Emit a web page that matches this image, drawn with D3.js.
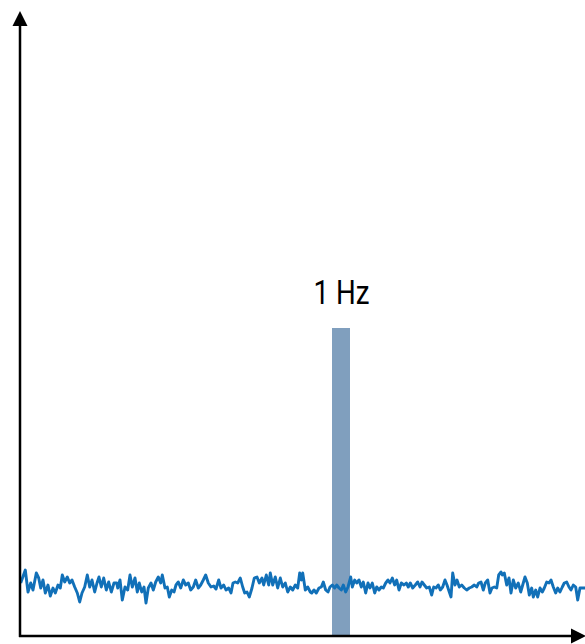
<!DOCTYPE html>
<html>
<head>
<meta charset="utf-8">
<script src="https://cdn.jsdelivr.net/npm/d3@7"></script>
<style>
  html, body { margin: 0; padding: 0; background: #fff; }
  svg { display: block; }
</style>
</head>
<body>
<div id="chart"></div>
<script>
// ---- data ----
// frequency axis in sample bins (321 bins = 1 Hz), amplitude in arbitrary units
const binsPerHz = 321;
const xDomain = [0, 565];
const yDomain = [0, 624];
const toneLabel = "1 Hz";
const toneBin = 321;
const toneWidthBins = 18;
const toneAmp = 308;

// noise floor: [bin, amplitude]
const noise = [
  [0.7,53],[5.3,66],[8,44],[10.7,53],[13,46],[16.3,63],[18.7,58],[20.7,48],[23,56],[25.3,43],
  [28,51],[30.3,40],[33,48],[35.3,43],[38,51],[40.3,48],[42.3,61],[44.7,54],[47.3,59],[49.7,53],
  [52,56],[54.7,49],[57.3,43],[59.7,34],[62,43],[64.7,49],[67.3,61],[69.7,49],[72,56],[74.7,44],
  [77,53],[79,59],[81.3,49],[83.7,58],[86.3,46],[88.7,54],[91.3,44],[94,53],[96.7,53],[97.7,48],
  [100,56],[102.3,36],[105,49],[107.7,46],[110,61],[112.3,49],[115,58],[117.3,44],[119.3,53],[121.7,44],
  [124,49],[126,33],[128.3,48],[131,53],[133.3,46],[135.7,54],[138.3,59],[140.7,53],[142.3,61],[145,48],
  [147.3,49],[149.3,39],[151.7,46],[154,44],[156,51],[158.3,54],[160.7,48],[163.3,56],[165.7,51],[168.3,53],
  [170.7,46],[173.3,49],[175.7,56],[178.3,48],[180.7,51],[183.3,56],[185.7,61],[188.3,53],[191,49],[193.7,50],
  [196,47],[198.7,56],[201,48],[203.7,51],[206,46],[208.7,48],[211,43],[213,53],[215.3,54],[217.7,53],
  [220.3,58],[222.7,49],[224.7,43],[227,44],[229.3,39],[232,48],[234.3,58],[237,59],[239.3,53],[242,58],
  [243.7,51],[246.3,61],[248.7,51],[250.3,63],[252.7,51],[255.3,59],[257.7,48],[260.3,58],[262.7,49],[265.3,53],
  [267.7,44],[270.3,49],[272.7,46],[275.3,51],[277.7,48],[279.7,63],[281.3,56],[282.7,63],[285.3,46],[287.7,49],
  [290.3,44],[291.7,43],[294,46],[296.3,43],[299,48],[301.3,49],[303.3,54],[305.7,46],[308,44],[310,49],
  [312.3,51],[314.7,48],[316.7,51],[319,48],[321.3,46],[323.3,51],[325.7,44],[328,49],[330.7,59],[332.3,49],
  [334.7,56],[336.7,53],[339,56],[341.3,49],[343.3,54],[345.7,43],[348,53],[350,48],[352.3,53],[354.7,43],
  [356.7,49],[359,46],[361.3,49],[363.3,48],[365.7,53],[368,56],[370,53],[372.3,58],[374.7,51],[376.7,56],
  [379,46],[381.3,53],[384,51],[386.3,53],[388.3,49],[390.3,53],[392.7,48],[395.3,51],[397.7,54],[400,49],
  [402,54],[404.3,51],[406.7,48],[409.3,49],[411.7,41],[413.7,49],[416,48],[418.3,51],[420.3,46],[422.7,49],
  [425,56],[427,51],[429.3,44],[431,39],[432.7,63],[435,51],[437,56],[439.3,49],[441.7,51],[444.3,48],
  [446.7,46],[449.3,48],[451.7,49],[454.3,51],[456.7,49],[458.7,53],[461,54],[463.3,46],[465.3,53],[467.7,56],
  [470,43],[472,48],[474.3,49],[476.7,48],[478.7,61],[481,64],[482.3,61],[484.3,63],[486.7,51],[489,58],
  [491,43],[493.3,56],[495.7,48],[498.3,53],[500.7,44],[502.7,51],[505,59],[507.3,53],[509.3,41],[511.7,48],
  [513.3,39],[515.7,46],[517.7,39],[520,48],[522.3,44],[524.3,48],[526.7,54],[529,53],[531,56],[533.3,49],
  [535.7,43],[537.7,48],[540,44],[542.3,49],[544.3,53],[546.7,54],[549,49],[551,46],[553.3,51],[555.7,49],
  [557.7,36],[560,48],[562.3,48],[565,48]
];

// ---- layout ----
const W = 585, H = 644;
const x = d3.scaleLinear().domain(xDomain).range([20, 585]);
const y = d3.scaleLinear().domain(yDomain).range([636, 12]);

const svg = d3.select("#chart").append("svg")
  .attr("width", W).attr("height", H);

// tone bar
svg.append("rect")
  .attr("x", x(toneBin - toneWidthBins / 2))
  .attr("width", x(toneBin + toneWidthBins / 2) - x(toneBin - toneWidthBins / 2))
  .attr("y", y(toneAmp))
  .attr("height", y(0) - y(toneAmp))
  .attr("fill", "#809fbe");

// label
svg.append("text")
  .attr("x", x(toneBin) + 0.5)
  .attr("y", y(toneAmp) - 24)
  .attr("text-anchor", "middle")
  .attr("font-family", "Roboto, 'Liberation Sans', sans-serif")
  .attr("font-size", 34)
  .attr("textLength", 56)
  .attr("lengthAdjust", "spacingAndGlyphs")
  .attr("fill", "#000")
  .text(toneLabel);

// noise line
const line = d3.line().x(d => x(d[0])).y(d => y(d[1])).curve(d3.curveLinear);
svg.append("path")
  .datum(noise)
  .attr("d", line)
  .attr("fill", "none")
  .attr("stroke", "#1170b8")
  .attr("stroke-width", 2.9)
  .attr("stroke-linejoin", "round");

// axes with arrows
const ax = svg.append("g");
ax.append("line")
  .attr("x1", x(0)).attr("y1", y(0) + 1)
  .attr("x2", x(0)).attr("y2", y(yDomain[1]) + 10)
  .attr("stroke", "#000").attr("stroke-width", 2.5);
ax.append("line")
  .attr("x1", x(0) - 1).attr("y1", y(0))
  .attr("x2", x(xDomain[1]) - 6).attr("y2", y(0))
  .attr("stroke", "#000").attr("stroke-width", 2.5);
// arrowheads
const ox = x(0), oy = y(0), topY = y(yDomain[1]) - 1, rightX = x(xDomain[1]) + 1;
ax.append("path")
  .attr("d", `M${ox},${topY} L${ox - 7.5},${topY + 15} L${ox + 7.5},${topY + 15} Z`)
  .attr("fill", "#000");
ax.append("path")
  .attr("d", `M${rightX},${oy} L${rightX - 15},${oy - 7.5} L${rightX - 15},${oy + 7.5} Z`)
  .attr("fill", "#000");
</script>
</body>
</html>
